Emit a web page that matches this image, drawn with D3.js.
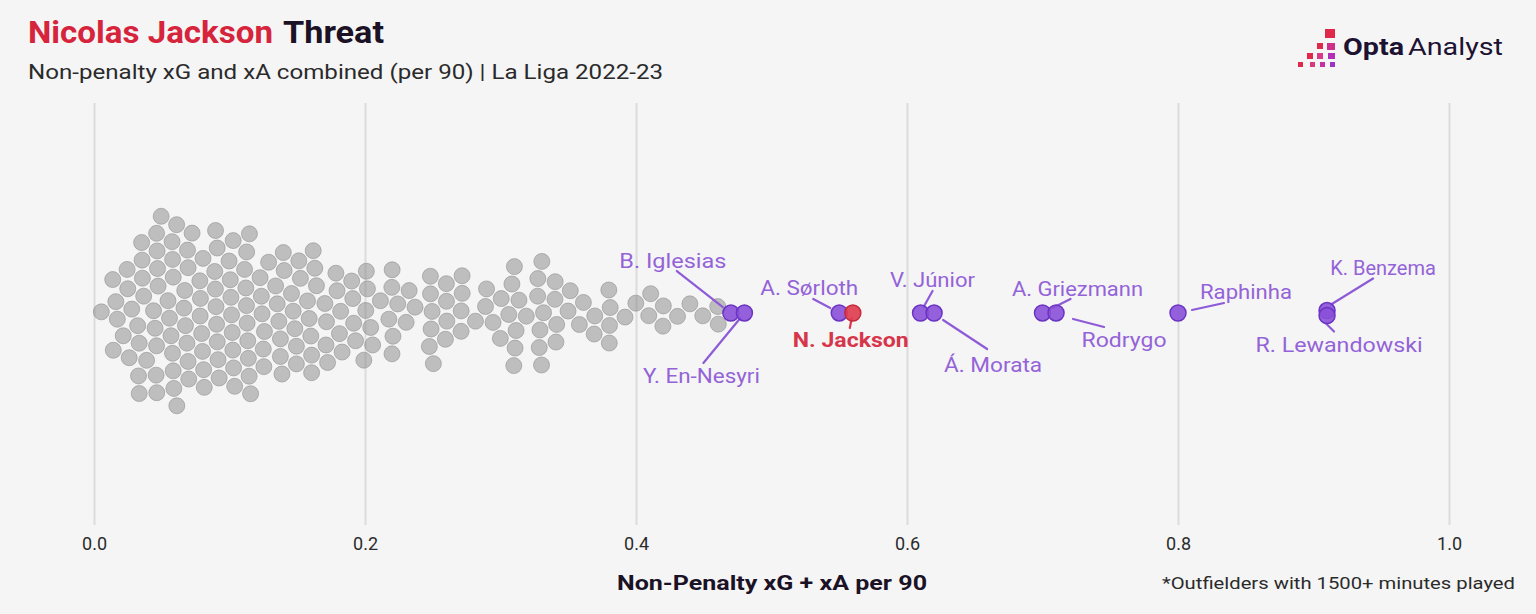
<!DOCTYPE html>
<html><head><meta charset="utf-8">
<script src="https://cdn.jsdelivr.net/npm/d3@7"></script>
<style>
body{margin:0;background:#f5f5f5;}
svg{display:block;}
text{font-family:Roboto,"Noto Sans",sans-serif;}
</style>
</head><body>
<svg id="chart" width="1536" height="614"></svg>
<script>
// ---------- DATA ----------
const tickValues = [0, 0.2, 0.4, 0.6, 0.8, 1.0];
const tickLabels = ["0.0", "0.2", "0.4", "0.6", "0.8", "1.0"];

// every other outfielder (1500+ minutes), np xG + xA per 90
const otherPlayers = [
  0.01,
  0.02, 0.02, 0.02, 0.02,
  0.03, 0.03, 0.03, 0.03,
  0.04, 0.04, 0.04, 0.04, 0.04, 0.04, 0.04, 0.04, 0.04, 0.04,
  0.05, 0.05, 0.05, 0.05, 0.05, 0.05, 0.05, 0.05, 0.05, 0.05, 0.05, 0.05,
  0.06, 0.06, 0.06, 0.06, 0.06, 0.06, 0.06, 0.06, 0.06, 0.06, 0.06, 0.06,
  0.07, 0.07, 0.07, 0.07, 0.07, 0.07, 0.07,
  0.08, 0.08, 0.08, 0.08, 0.08, 0.08, 0.08,
  0.09, 0.09, 0.09, 0.09, 0.09, 0.09, 0.09, 0.09, 0.09,
  0.10, 0.10, 0.10, 0.10, 0.10, 0.10, 0.10, 0.10, 0.10,
  0.11, 0.11, 0.11, 0.11, 0.11, 0.11, 0.11, 0.11, 0.11, 0.11,
  0.12, 0.12, 0.12, 0.12, 0.12,
  0.13, 0.13, 0.13, 0.13,
  0.14, 0.14, 0.14, 0.14, 0.14, 0.14, 0.14,
  0.15, 0.15, 0.15, 0.15, 0.15, 0.15,
  0.16, 0.16, 0.16, 0.16, 0.16, 0.16, 0.16, 0.16,
  0.17, 0.17, 0.17, 0.17,
  0.18, 0.18, 0.18, 0.18, 0.18,
  0.19, 0.19, 0.19, 0.19,
  0.20, 0.20, 0.20, 0.20, 0.20, 0.20,
  0.21,
  0.22, 0.22, 0.22, 0.22, 0.22, 0.22,
  0.23, 0.23,
  0.24,
  0.25, 0.25, 0.25, 0.25, 0.25, 0.25,
  0.26, 0.26, 0.26, 0.26,
  0.27, 0.27, 0.27, 0.27,
  0.28,
  0.29, 0.29, 0.29,
  0.30, 0.30,
  0.31, 0.31, 0.31, 0.31, 0.31, 0.31, 0.31,
  0.32,
  0.33, 0.33, 0.33, 0.33, 0.33, 0.33, 0.33,
  0.34, 0.34, 0.34, 0.34,
  0.35, 0.35,
  0.36, 0.36,
  0.37, 0.37,
  0.38, 0.38, 0.38, 0.38,
  0.39,
  0.40,
  0.41, 0.41,
  0.42, 0.42,
  0.43,
  0.44,
  0.45,
  0.46, 0.46
];

const highlightNames  = ["B. Iglesias", "Y. En-Nesyri", "A. Sørloth", "N. Jackson", "V. Júnior", "Á. Morata",
                         "A. Griezmann", "Rodrygo", "Raphinha", "K. Benzema", "R. Lewandowski"];
const highlightValues = [0.47, 0.48, 0.55, 0.56, 0.61, 0.62, 0.70, 0.71, 0.80, 0.91, 0.91];
const focusPlayer = "N. Jackson";

// ---------- ANNOTATION LAYOUT (offsets from each dot) ----------
const annot = {
  "B. Iglesias":    {dx:-58, dy:-45, w:107, line:[-54,-42,-8,-6]},
  "Y. En-Nesyri":   {dx:-43, dy:70,  w:117, line:[-41,50,-4,5]},
  "A. Sørloth":     {dx:-30, dy:-18, w:98,  line:[-26,-14,-9,-5]},
  "N. Jackson":     {dx:-2,  dy:34,  w:116, line:[-1,5,-3,15]},
  "V. Júnior":      {dx:12,  dy:-26, w:85,  line:[12,-22,3,-6]},
  "Á. Morata":      {dx:59,  dy:59,  w:98,  line:[9,7,53,36]},
  "A. Griezmann":   {dx:35,  dy:-17, w:131, line:[10,-5,28,-14]},
  "Rodrygo":        {dx:68,  dy:34,  w:85,  line:[17,6,48,14]},
  "Raphinha":       {dx:68,  dy:-14, w:92,  line:[14,-3,46,-10]},
  "K. Benzema":     {dx:56,  dy:-36, w:106, line:[4,-6,46,-32]},
  "R. Lewandowski": {dx:12,  dy:36,  w:167, line:[-1,8,7,16]}
};

// ---------- CHART ----------
const svg = d3.select("#chart");
svg.append("rect").attr("width",1536).attr("height",614).attr("fill","#f5f5f5");

const x = d3.scaleLinear().domain([0, 1]).range([94, 1449]);
const cy = 313, gridTop = 103, gridBottom = 525;

function fit(sel, w) {
  const L = sel.node().getComputedTextLength();
  if (Math.abs(L - w) > 1) sel.attr("textLength", w).attr("lengthAdjust", "spacingAndGlyphs");
  return sel;
}

// grid
const grid = svg.append("g").attr("transform", `translate(0,${gridBottom})`)
  .call(d3.axisBottom(x).tickValues(tickValues).tickSize(-(gridBottom - gridTop)).tickFormat(""));
grid.select(".domain").remove();
grid.selectAll("line").attr("stroke", "#dcdcdc").attr("stroke-width", 2);

// tick labels
const ax = svg.append("g").attr("transform", `translate(0,${gridBottom})`)
  .call(d3.axisBottom(x).tickValues(tickValues).tickFormat((d, i) => tickLabels[i]).tickSize(0).tickPadding(12));
ax.select(".domain").remove();
ax.selectAll("text").attr("font-size", 18).attr("fill", "#2b2b2b")
  .style("font-family", "Roboto, sans-serif");

// beeswarm
const nodes = otherPlayers.map(v => ({v, r: 8.8, hl: false}))
  .concat(highlightValues.map((v, i) => ({v, r: 2.5, hl: true, name: highlightNames[i]})));
nodes.forEach((n, i) => { n.x = x(n.v); n.y = cy + ((i % 5) - 2) * 0.5; });
const sim = d3.forceSimulation(nodes)
  .force("x", d3.forceX(d => x(d.v)).strength(1))
  .force("y", d3.forceY(cy).strength(0.05))
  .force("collide", d3.forceCollide(d => d.r).strength(0.7).iterations(1))
  .stop();
for (let i = 0; i < 400; i++) sim.tick();

const dotR = 8;
svg.append("g").selectAll("circle").data(nodes.filter(d => !d.hl)).join("circle")
  .attr("cx", d => d.x).attr("cy", d => d.y).attr("r", dotR)
  .attr("fill", "#7c7c7c").attr("fill-opacity", 0.45)
  .attr("stroke", "#8a8a8a").attr("stroke-opacity", 0.55).attr("stroke-width", 1);

const hl = nodes.filter(d => d.hl);
// leader lines
svg.append("g").selectAll("line").data(hl).join("line")
  .attr("x1", d => d.x + annot[d.name].line[0]).attr("y1", d => d.y + annot[d.name].line[1])
  .attr("x2", d => d.x + annot[d.name].line[2]).attr("y2", d => d.y + annot[d.name].line[3])
  .attr("stroke", d => d.name === focusPlayer ? "#d93a4c" : "#8e5bd8")
  .attr("stroke-width", 2.2).attr("stroke-linecap", "round");

svg.append("g").selectAll("circle").data(hl.filter(d => d.name !== focusPlayer).concat(hl.filter(d => d.name === focusPlayer))).join("circle")
  .attr("cx", d => d.x).attr("cy", d => d.y).attr("r", dotR)
  .attr("fill", d => d.name === focusPlayer ? "#df3b4d" : "#8a50d8")
  .attr("fill-opacity", 0.9)
  .attr("stroke", d => d.name === focusPlayer ? "#c42a3c" : "#6a34c2").attr("stroke-width", 1.5);

const labels = svg.append("g").selectAll("text").data(hl).join("text")
  .attr("x", d => d.x + annot[d.name].dx).attr("y", d => d.y + annot[d.name].dy)
  .attr("text-anchor", "middle").attr("font-size", 20)
  .attr("font-weight", d => d.name === focusPlayer ? 700 : 400)
  .attr("fill", d => d.name === focusPlayer ? "#d7354a" : "#9463d8")
  .text(d => d.name);
labels.each(function(d) { fit(d3.select(this), annot[d.name].w); });

// titles
fit(svg.append("text").attr("x", 28).attr("y", 43).attr("font-size", 31).attr("font-weight", 700)
  .attr("fill", "#d5243b").text("Nicolas Jackson"), 245);
fit(svg.append("text").attr("x", 283).attr("y", 43).attr("font-size", 31).attr("font-weight", 700)
  .attr("fill", "#1b1226").text("Threat"), 101);
fit(svg.append("text").attr("x", 28).attr("y", 79).attr("font-size", 21)
  .attr("fill", "#2a2a2a").text("Non-penalty xG and xA combined (per 90) | La Liga 2022-23"), 635);

// axis title + footnote
fit(svg.append("text").attr("x", 772).attr("y", 590).attr("text-anchor", "middle").attr("font-size", 21)
  .attr("font-weight", 700).attr("fill", "#1b1226").text("Non-Penalty xG + xA per 90"), 310);
fit(svg.append("text").attr("x", 1515).attr("y", 589).attr("text-anchor", "end").attr("font-size", 17)
  .attr("fill", "#2b2b2b").text("*Outfielders with 1500+ minutes played"), 353);

// logo
const logo = svg.append("g");
const sq = [
  [1325, 29, 10, 9, "#e0284a"],
  [1317, 43, 6, 6, "#e0284a"], [1327, 43, 8, 7, "#cf2f8c"],
  [1307, 53, 6, 6, "#e0284a"], [1317, 53, 6, 6, "#d83a86"], [1328, 53, 7, 6, "#b22fb8"],
  [1298, 62, 5, 5, "#e0284a"], [1310, 62, 5, 5, "#d83a7c"], [1320, 62, 5, 5, "#c630a6"], [1330, 62, 5, 5, "#9b33c9"]
];
logo.selectAll("rect").data(sq).join("rect")
  .attr("x", d => d[0]).attr("y", d => d[1]).attr("width", d => d[2]).attr("height", d => d[3]).attr("fill", d => d[4]);
fit(logo.append("text").attr("x", 1343).attr("y", 55).attr("font-size", 23).attr("font-weight", 700)
  .attr("fill", "#1e1232").text("Opta"), 61);
fit(logo.append("text").attr("x", 1408).attr("y", 55).attr("font-size", 23).attr("font-weight", 400)
  .attr("fill", "#1e1232").text("Analyst"), 95);
</script>
</body></html>
